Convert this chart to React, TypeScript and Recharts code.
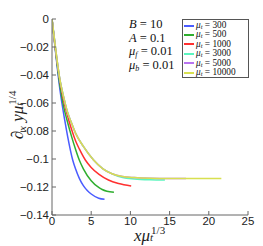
import { Line, LineChart, XAxis, YAxis } from "recharts";

const xTicks = [0, 5, 10, 15, 20, 25];
const yTicks = [-0.14, -0.12, -0.1, -0.08, -0.06, -0.04, -0.02, 0];

const x300 = [0, 0.5, 1, 1.62, 2, 2.64, 3, 3.5, 4, 4.5, 5, 5.96, 6.7];
const y300 = [0, -0.026, -0.05, -0.0721, -0.084, -0.1007, -0.107, -0.114, -0.119, -0.1225, -0.125, -0.128, -0.1288];

const x500 = [0, 0.5, 1, 1.5, 1.91, 2.5, 3, 3.48, 4, 5, 6, 6.4, 7, 7.9];
const y500 = [0, -0.025, -0.047, -0.063, -0.0721, -0.084, -0.093, -0.1007, -0.107, -0.1155, -0.1205, -0.1218, -0.123, -0.1238];

const x1000 = [0, 0.5, 1, 1.5, 2.13, 2.5, 3, 3.5, 4.25, 5, 6, 7.2, 8.5, 10.1];
const y1000 = [0, -0.024, -0.044, -0.0585, -0.0721, -0.079, -0.087, -0.093, -0.1007, -0.106, -0.111, -0.115, -0.1175, -0.1193];

const x3000 = [0, 0.5, 1, 1.5, 2, 2.34, 3, 4, 5.3, 6.5, 7.65, 9, 10.5, 12.5, 14.4];
const y3000 = [0, -0.023, -0.043, -0.056, -0.067, -0.0721, -0.0815, -0.091, -0.1007, -0.107, -0.1105, -0.1132, -0.1142, -0.1148, -0.115];

const x5000 = [0, 0.5, 1, 1.5, 2, 2.34, 3, 4, 5.3, 6.5, 7.65, 9, 10.5, 12.5, 15, 17.1];
const y5000 = [0, -0.023, -0.043, -0.056, -0.067, -0.0721, -0.0815, -0.091, -0.1007, -0.107, -0.1105, -0.1125, -0.1133, -0.1138, -0.114, -0.114];

const x10000 = [0, 0.5, 1, 1.5, 2, 2.34, 3, 4, 5.3, 6.5, 7.65, 9, 10.5, 12.5, 15, 18, 21.6];
const y10000 = [0, -0.023, -0.043, -0.056, -0.067, -0.0721, -0.0815, -0.091, -0.1007, -0.107, -0.1105, -0.1125, -0.1133, -0.1138, -0.114, -0.114, -0.114];

const zip = (xs: number[], ys: number[]) => xs.map((x, i) => ({ x, y: ys[i] }));

const series = [
  { mu: "300", color: "#4a5cff", data: zip(x300, y300) },
  { mu: "500", color: "#2fae2f", data: zip(x500, y500) },
  { mu: "1000", color: "#ff3030", data: zip(x1000, y1000) },
  { mu: "3000", color: "#5cf5bf", data: zip(x3000, y3000) },
  { mu: "5000", color: "#b874f0", data: zip(x5000, y5000) },
  { mu: "10000", color: "#d8e050", data: zip(x10000, y10000) },
];

const serif = "'Liberation Serif', 'DejaVu Serif', serif";
const sans = "'Liberation Sans', Arial, sans-serif";
const axisColor = "#666";

const fmtY = (v: number) => (v === 0 ? "0" : "\u2212" + Math.abs(v));

// stacked subscript/superscript, like mu_t^{1/4}
function SubSup({ sub, sup, size, w }: { sub: string; sup: string; size: number; w: number }) {
  return (
    <span style={{ display: "inline-block", position: "relative", width: w, height: "1em", verticalAlign: "baseline" }}>
      <span style={{ position: "absolute", left: 1, bottom: "0.42em", fontSize: size, fontStyle: "normal", lineHeight: 1 }}>
        {sup}
      </span>
      <span style={{ position: "absolute", left: 0, top: "0.72em", fontSize: size, fontStyle: "italic", lineHeight: 1 }}>
        {sub}
      </span>
    </span>
  );
}

function LegendBox() {
  return (
    <div
      style={{
        position: "absolute",
        left: 182,
        top: 19,
        border: "1px solid #555",
        background: "#fff",
        width: 64,
        padding: "1px 0 0 1px",
        fontFamily: serif,
        fontSize: 9.3,
        lineHeight: "9.4px",
        color: "#111",
      }}
    >
      {series.map((s) => (
        <div key={s.mu} style={{ display: "flex", alignItems: "center", height: 9.4 }}>
          <span style={{ width: 10, height: 2, background: s.color, marginRight: 2, flexShrink: 0 }} />
          <span style={{ whiteSpace: "nowrap" }}>
            <i>μ</i>
            <sub style={{ fontSize: 6.5, fontStyle: "italic", verticalAlign: "-1px", lineHeight: 0 }}>t</sub> = {s.mu}
          </span>
        </div>
      ))}
    </div>
  );
}

export default function App() {
  return (
    <div style={{ position: "absolute", left: 0, top: 0, width: 263, height: 246, background: "#fff" }}>
      <LineChart width={263} height={246} margin={{ top: 19, right: 15, bottom: 0, left: 0 }}>
        <XAxis
          type="number"
          dataKey="x"
          domain={[0, 25]}
          ticks={xTicks}
          height={31}
          tickSize={-4}
          tickMargin={6}
          stroke={axisColor}
          tick={{ fill: "#222", fontSize: 11.5, fontFamily: sans }}
          allowDataOverflow
        />
        <XAxis
          xAxisId="top"
          orientation="top"
          type="number"
          domain={[0, 25]}
          ticks={xTicks}
          height={0}
          tickSize={-4}
          tickFormatter={() => ""}
          stroke={axisColor}
        />
        <YAxis
          type="number"
          domain={[-0.14, 0]}
          ticks={yTicks}
          width={52}
          tickSize={-4}
          tickMargin={7}
          tickFormatter={fmtY}
          stroke={axisColor}
          tick={{ fill: "#222", fontSize: 11.5, fontFamily: sans }}
          allowDataOverflow
        />
        <YAxis
          yAxisId="right"
          orientation="right"
          type="number"
          domain={[-0.14, 0]}
          ticks={yTicks}
          width={0}
          tickSize={-4}
          tickFormatter={() => ""}
          stroke={axisColor}
        />
        {series.map((s) => (
          <Line
            key={s.mu}
            data={s.data}
            dataKey="y"
            name={s.mu}
            type="monotone"
            stroke={s.color}
            strokeWidth={1.5}
            dot={false}
            isAnimationActive={false}
          />
        ))}
      </LineChart>

      <LegendBox />

      <div
        style={{
          position: "absolute",
          left: 129,
          top: 18,
          fontFamily: serif,
          fontSize: 12.5,
          lineHeight: "13.7px",
          color: "#111",
        }}
      >
        <div><i>B</i> = 10</div>
        <div><i>A</i> = 0.1</div>
        <div>
          <i>μ</i><sub style={{ fontSize: 8, fontStyle: "italic", verticalAlign: "-2px", lineHeight: 0 }}>f</sub> = 0.01
        </div>
        <div>
          <i>μ</i><sub style={{ fontSize: 8, fontStyle: "italic", verticalAlign: "-2px", lineHeight: 0 }}>b</sub> = 0.01
        </div>
      </div>

      <div
        style={{
          position: "absolute",
          left: 16,
          top: 114,
          transform: "translate(-50%, -50%) rotate(-90deg)",
          fontFamily: serif,
          fontSize: 17,
          lineHeight: 1,
          whiteSpace: "nowrap",
          color: "#222",
        }}
      >
        ∂<sub style={{ fontSize: 11, fontStyle: "italic", verticalAlign: "-3px", lineHeight: 0 }}>x</sub>
        <i> yμ</i>
        <SubSup sub="t" sup="1/4" size={11} w={17} />
      </div>

      <div
        style={{
          position: "absolute",
          left: 134,
          top: 224,
          fontFamily: serif,
          fontSize: 17,
          lineHeight: 1,
          whiteSpace: "nowrap",
          color: "#222",
        }}
      >
        <i>xμ</i>
        <SubSup sub="t" sup="1/3" size={11} w={17} />
      </div>
    </div>
  );
}
